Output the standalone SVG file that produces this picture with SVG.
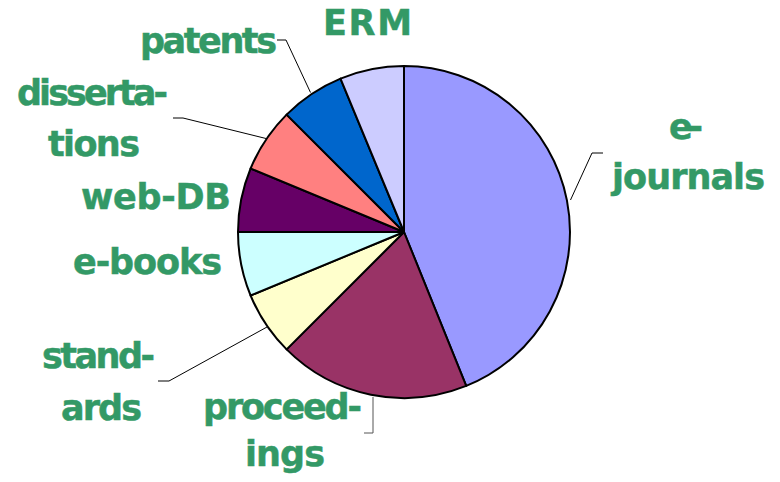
<svg xmlns="http://www.w3.org/2000/svg" width="780" height="482" viewBox="0 0 780 482">
<style>
.s{stroke:#000;stroke-width:2;stroke-linejoin:round}
.lbl{font-family:"DejaVu Sans","Verdana",sans-serif;font-weight:bold;font-size:35px;fill:#339966;stroke:#339966;stroke-width:0.5}
.ld{fill:none;stroke:#000;stroke-width:1}
</style>
<rect width="780" height="482" fill="#fff"/>
<g id="pie">
<g id="e-journals"><path class="s" fill="#9999FF" d="M404,232 L404,66 A166,166 0 0 1 466.2,385.9 Z"/></g>
<g id="proceedings"><path class="s" fill="#993366" d="M404,232 L466.2,385.9 A166,166 0 0 1 286.6,349.4 Z"/></g>
<g id="standards"><path class="s" fill="#FFFFCC" d="M404,232 L286.6,349.4 A166,166 0 0 1 250.6,295.5 Z"/></g>
<g id="e-books"><path class="s" fill="#CCFFFF" d="M404,232 L250.6,295.5 A166,166 0 0 1 238,232 Z"/></g>
<g id="web-DB"><path class="s" fill="#660066" d="M404,232 L238,232 A166,166 0 0 1 250.6,168.5 Z"/></g>
<g id="dissertations"><path class="s" fill="#FF8080" d="M404,232 L250.6,168.5 A166,166 0 0 1 286.6,114.6 Z"/></g>
<g id="patents"><path class="s" fill="#0066CC" d="M404,232 L286.6,114.6 A166,166 0 0 1 340.5,78.6 Z"/></g>
<g id="ERM"><path class="s" fill="#CCCCFF" d="M404,232 L340.5,78.6 A166,166 0 0 1 404,66 Z"/></g>
</g>
<g id="connectors">
<polyline class="ld" points="277,40 286,40 310.5,92.5"/>
<polyline class="ld" points="173,118 183,118 266,138.5"/>
<polyline class="ld" points="603,153 592,153 570.5,200"/>
<polyline class="ld" points="158,381 169,381 267,327"/>
<polyline class="ld" points="373,397 373,433 364,433" style="stroke:#555"/>
</g>
<g id="labels">
<text class="lbl" x="323" y="35" textLength="89">ERM</text>
<text class="lbl" x="140" y="53" textLength="137">patents</text>
<text class="lbl" x="17" y="105" textLength="151">disserta-</text>
<text class="lbl" x="48" y="156" textLength="92">tions</text>
<text class="lbl" x="81" y="209" textLength="150">web-DB</text>
<text class="lbl" x="73" y="274" textLength="149">e-books</text>
<text class="lbl" x="42" y="368" textLength="113">stand-</text>
<text class="lbl" x="61" y="420" textLength="81">ards</text>
<text class="lbl" x="203" y="419" textLength="159">proceed-</text>
<text class="lbl" x="245" y="466" textLength="80">ings</text>
<text class="lbl" x="669" y="139" textLength="34">e-</text>
<text class="lbl" x="612" y="189" textLength="153">journals</text>
</g>
</svg>
